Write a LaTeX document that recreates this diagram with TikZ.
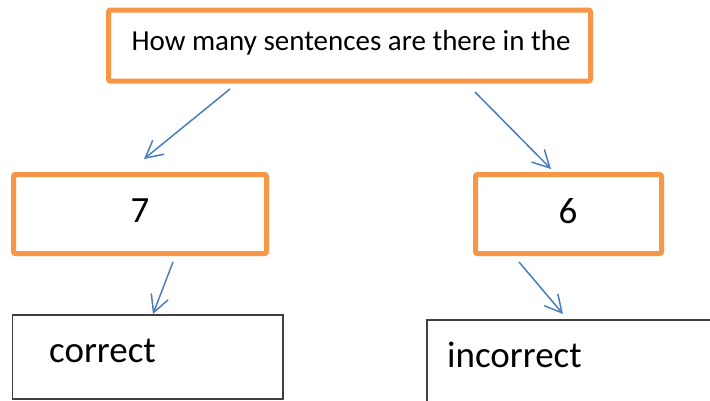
\documentclass[tikz,border=0pt]{standalone}
\usepackage{fontspec}
\setmainfont{Carlito}
\usetikzlibrary{arrows.meta}
\definecolor{boxorange}{HTML}{F79646}
\definecolor{arrowblue}{HTML}{4A7EBB}
\definecolor{boxgrey}{HTML}{404040}
\tikzset{
  obox/.style={draw=boxorange, line width=5pt, rounded corners=2pt, fill=white},
  gbox/.style={draw=boxgrey, line width=1.3pt, fill=white},
  conn/.style={draw=arrowblue, line width=1.5pt, -{Straight Barb[length=17pt,width=18pt,line width=1.5pt]}},
  small/.style={font=\fontsize{29}{34}\selectfont, inner sep=0pt, anchor=base},
  big/.style={font=\fontsize{37}{43}\selectfont, inner sep=0pt},
}
\begin{document}
\begin{tikzpicture}[x=1pt,y=-1pt]
\useasboundingbox (0,0) rectangle (710,400);
\clip (0,0) rectangle (710,400);
\fill[white] (0,0) rectangle (710,400);
% boxes
\draw[obox] (108.5,10) rectangle (590.5,81);
\draw[obox] (13.5,174.5) rectangle (266.5,253.5);
\draw[obox] (475.5,174.5) rectangle (661.5,253.5);
\draw[gbox] (12.7,315) rectangle (283,399);
\draw[gbox] (427,320) rectangle (730,420);
% texts
\node[small] (qtext) at (351,50) {How many sentences are there in the};
\node[big, anchor=base] (seven) at (140,222) {7};
\node[big, anchor=base] (six) at (568,223) {6};
\node[big, anchor=base west] (correct) at (49,362) {correct};
\node[big, anchor=base west] (incorrect) at (447,367) {incorrect};
% connector endpoints
\coordinate (a1s) at (230,89);
\coordinate (a1e) at (144,159);
\coordinate (a2s) at (475,92);
\coordinate (a2e) at (551,169);
\coordinate (a3s) at (173,262);
\coordinate (a3e) at (153,314);
\coordinate (a4s) at (519,262);
\coordinate (a4e) at (563,314);
\draw[conn] (a1s) -- (a1e);
\draw[conn] (a2s) -- (a2e);
\draw[conn] (a3s) -- (a3e);
\draw[conn] (a4s) -- (a4e);
\end{tikzpicture}
\end{document}
